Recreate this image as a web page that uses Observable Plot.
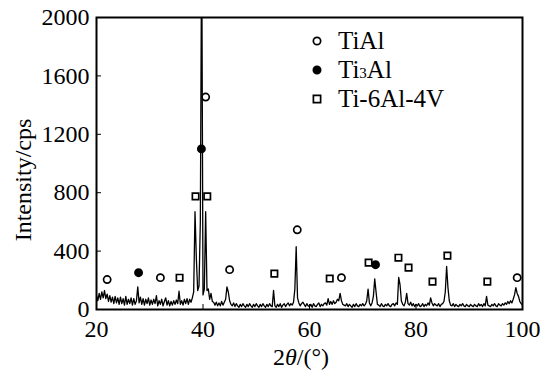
<!DOCTYPE html>
<html>
<head>
<meta charset="utf-8">
<script src="https://cdn.jsdelivr.net/npm/d3@7"></script>
<script src="https://cdn.jsdelivr.net/npm/@observablehq/plot@0.6"></script>
<style>
  html, body { margin: 0; padding: 0; background: #fff; }
  #chart { width: 551px; height: 374px; }
  #chart svg, #chart svg text { font-family: "Liberation Serif", "Times New Roman", serif; }
</style>
</head>
<body>
<div id="chart"></div>
<script>
// XRD pattern, 2θ from 20 to 100 on a 0.25° grid
const traceStart = 20;
const traceStep = 0.25;
const intensity = [
  95, 60, 110, 70,     // 20
  120, 80, 130, 75,    // 21
  105, 55, 95, 50,     // 22
  85, 40, 90, 45,      // 23
  80, 35, 85, 40,      // 24
  75, 30, 90, 35,      // 25
  70, 40, 80, 30,      // 26
  75, 35, 60, 155,     // 27
  45, 85, 35, 75,      // 28
  30, 70, 40, 80,      // 29
  30, 65, 35, 70,      // 30
  40, 95, 25, 60,      // 31
  35, 70, 25, 55,      // 32
  80, 30, 60, 25,      // 33
  55, 30, 60, 35,      // 34
  65, 40, 125, 35,     // 35
  60, 30, 70, 40,      // 36
  75, 35, 70, 50,      // 37
  80, 120, 670, 350,   // 38
  130, 160, 600, 2600, // 39
  100, 140, 670, 130,  // 40
  140, 70, 110, 55,    // 41
  50, 30, 50, 25,      // 42
  45, 25, 55, 30,      // 43
  50, 70, 155, 120,    // 44
  60, 35, 25, 45,      // 45
  20, 40, 25, 15,      // 46
  35, 20, 40, 25,      // 47
  15, 35, 20, 40,      // 48
  25, 15, 35, 20,      // 49
  40, 25, 15, 35,      // 50
  20, 40, 25, 15,      // 51
  35, 20, 40, 25,      // 52
  20, 130, 25, 15,     // 53
  35, 20, 40, 15,      // 54
  30, 40, 20, 35,      // 55
  45, 25, 40, 30,      // 56
  50, 140, 430, 80,    // 57
  45, 25, 40, 50,      // 58
  35, 20, 40, 25,      // 59
  20, 35, 15, 40,      // 60
  25, 20, 35, 45,      // 61
  20, 35, 25, 40,      // 62
  45, 30, 75, 35,      // 63
  55, 35, 60, 40,      // 64
  50, 70, 60, 110,     // 65
  60, 35, 30, 25,      // 66
  40, 20, 35, 25,      // 67
  15, 35, 20, 40,      // 68
  25, 20, 35, 25,      // 69
  40, 25, 35, 60,      // 70
  140, 45, 25, 45,     // 71
  90, 210, 120, 35,    // 72
  30, 20, 40, 25,      // 73
  20, 35, 25, 40,      // 74
  25, 20, 35, 40,      // 75
  25, 45, 35, 220,     // 76
  170, 60, 35, 25,     // 77
  50, 110, 40, 30,     // 78
  50, 25, 40, 20,      // 79
  35, 25, 40, 20,      // 80
  25, 40, 20, 35,      // 81
  25, 45, 30, 80,      // 82
  45, 25, 40, 30,      // 83
  25, 40, 20, 35,      // 84
  40, 55, 120, 295,    // 85
  150, 60, 30, 25,     // 86
  40, 20, 35, 25,      // 87
  20, 35, 25, 40,      // 88
  25, 20, 35, 25,      // 89
  20, 35, 25, 20,      // 90
  35, 25, 20, 40,      // 91
  25, 35, 20, 40,      // 92
  25, 90, 30, 25,      // 93
  20, 35, 25, 40,      // 94
  25, 20, 40, 30,      // 95
  25, 40, 30, 45,      // 96
  35, 55, 40, 60,      // 97
  45, 70, 100, 150,    // 98
  110, 90, 55, 40,     // 99
  30                   // 100
];

// Phase markers
const tiAlX = [22, 32, 40.5, 45, 57.7, 66, 99];
const tiAlY = [205, 218, 1455, 273, 546, 218, 218];
const ti3AlX = [27.9, 39.7, 72.4];
const ti3AlY = [252, 1100, 307];
const tiVX = [35.6, 38.6, 40.8, 53.4, 63.8, 71.1, 76.7, 78.6, 83.1, 85.9, 93.4];
const tiVY = [218, 775, 775, 246, 212, 321, 355, 287, 191, 369, 191];

const xTicks = [20, 40, 60, 80, 100];
const yTicks = [0, 400, 800, 1200, 1600, 2000];
const phaseNames = ["TiAl", "Ti3Al", "Ti-6Al-4V"];

const trace = intensity.map((v, i) => ({t: traceStart + i * traceStep, v}));
const markers = [
  ...tiAlX.map((x, i) => ({x, y: tiAlY[i], phase: phaseNames[0]})),
  ...ti3AlX.map((x, i) => ({x, y: ti3AlY[i], phase: phaseNames[1]})),
  ...tiVX.map((x, i) => ({x, y: tiVY[i], phase: phaseNames[2]}))
];
const symbolOf = {"TiAl": "circle", "Ti3Al": "circle", "Ti-6Al-4V": "square"};
const fillOf = {"TiAl": "none", "Ti3Al": "black", "Ti-6Al-4V": "none"};

const font = "Liberation Serif";

const plot = Plot.plot({
  width: 551,
  height: 374,
  marginLeft: 96,
  marginRight: 29,
  marginTop: 17,
  marginBottom: 65,
  style: {fontFamily: font, fontSize: "24px", color: "black", background: "white", overflow: "visible"},
  x: {domain: [20, 100]},
  y: {domain: [0, 2000]},
  marks: [
    Plot.line(trace, {x: "t", y: "v", stroke: "black", strokeWidth: 1.3, clip: true}),
    Plot.dot(markers, {
      x: "x", y: "y",
      symbol: d => symbolOf[d.phase],
      fill: d => fillOf[d.phase],
      stroke: "black",
      strokeWidth: 1.7,
      r: 3.6
    }),
    Plot.axisX(xTicks, {tickSize: -5, tickPadding: 15, label: null, fontSize: 24, fontFamily: font, tickFormat: d => String(d)}),
    Plot.axisY(yTicks, {tickSize: -5, tickPadding: 12, label: null, fontSize: 24, fontFamily: font, tickFormat: d => String(d)}),
    Plot.frame({stroke: "black", strokeWidth: 2})
  ]
});

document.getElementById("chart").appendChild(plot);

// Axis titles and legend (inside the same SVG)
const svg = d3.select(plot);
svg.append("text")
  .attr("transform", "translate(31,180) rotate(-90)")
  .attr("text-anchor", "middle")
  .attr("font-family", font)
  .attr("font-size", 24)
  .attr("fill", "black")
  .text("Intensity/cps");

const xl = svg.append("text")
  .attr("x", 301).attr("y", 365)
  .attr("text-anchor", "middle")
  .attr("font-family", font)
  .attr("font-size", 24)
  .attr("fill", "black");
xl.append("tspan").text("2");
xl.append("tspan").attr("font-style", "italic").text("θ");
xl.append("tspan").text("/(°)");

const lg = svg.append("g")
  .attr("font-family", font)
  .attr("font-size", 25)
  .attr("text-anchor", "start")
  .attr("fill", "black");
const rows = [
  {name: phaseNames[0], y: 49},
  {name: phaseNames[1], y: 78},
  {name: phaseNames[2], y: 107}
];
rows.forEach(r => {
  const sym = symbolOf[r.name] === "square" ? d3.symbolSquare : d3.symbolCircle;
  const size = symbolOf[r.name] === "square" ? 52 : 42;
  lg.append("path")
    .attr("d", d3.symbol(sym, size)())
    .attr("transform", `translate(317,${r.y - 8})`)
    .attr("fill", fillOf[r.name])
    .attr("stroke", "black")
    .attr("stroke-width", 1.7);
  const t = lg.append("text").attr("x", 338).attr("y", r.y).attr("text-anchor", "start");
  if (r.name === "Ti3Al") {
    t.append("tspan").text("Ti");
    t.append("tspan").attr("font-size", 15).text("3");
    t.append("tspan").text("Al");
  } else {
    t.text(r.name);
  }
});
</script>
</body>
</html>
